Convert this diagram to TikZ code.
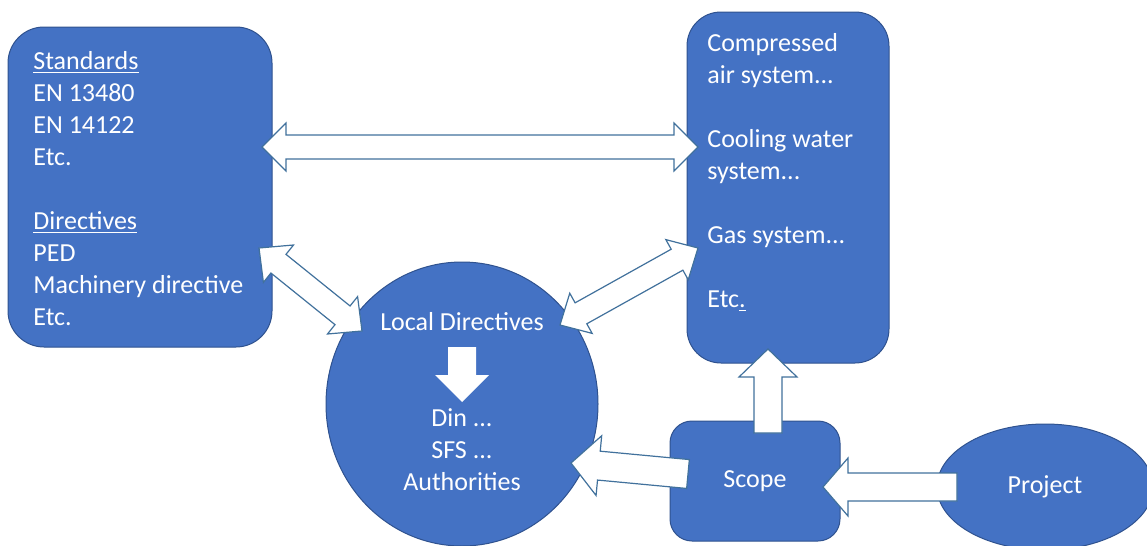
\documentclass[tikz,border=0pt]{standalone}
\usepackage{fontspec}
\setmainfont{Carlito}
\usetikzlibrary{shapes.geometric,calc}

\definecolor{boxblue}{HTML}{4472C4}
\definecolor{boxline}{HTML}{2F528F}
\definecolor{arrowline}{HTML}{41719C}

% block arrow: [style] tail, tip, shaft half width, head half width, head length
\newcommand{\singlearrow}[6][]{%
  \coordinate (neck) at ($(#3)!#6!(#2)$);
  \draw[blockarrow,#1] ($(#2)!#4!90:(#3)$) -- ($(neck)!#4!90:(#3)$) -- ($(neck)!#5!90:(#3)$) -- (#3)
    -- ($(neck)!#5!-90:(#3)$) -- ($(neck)!#4!-90:(#3)$) -- ($(#2)!#4!-90:(#3)$) -- cycle;}
% double block arrow: end a, end b, shaft half width, head half width, head length
\newcommand{\doublearrow}[5]{%
  \coordinate (necka) at ($(#1)!#5!(#2)$);
  \coordinate (neckb) at ($(#2)!#5!(#1)$);
  \draw[blockarrow] (#1) -- ($(necka)!#4!90:(#2)$) -- ($(necka)!#3!90:(#2)$) -- ($(neckb)!#3!90:(#2)$)
    -- ($(neckb)!#4!90:(#2)$) -- (#2) -- ($(neckb)!#4!-90:(#2)$) -- ($(neckb)!#3!-90:(#2)$)
    -- ($(necka)!#3!-90:(#2)$) -- ($(necka)!#4!-90:(#2)$) -- cycle;}

\begin{document}
\begin{tikzpicture}[x=0.5pt,y=-0.5pt,
  box/.style={fill=boxblue, draw=boxline, line width=0.5pt, inner sep=0pt, text=white},
  txt/.style={text=white, inner sep=0pt},
  blockarrow/.style={fill=white, draw=arrowline, line width=0.6pt, line join=miter},
  font=\fontsize{13}{16}\selectfont]
\clip (0,0) rectangle (1147,546);

%Formes
\node[box, rectangle, rounded corners=18pt, minimum width=132pt, minimum height=160pt] (std) at (140,187) {};
\node[box, rectangle, rounded corners=17pt, minimum width=101pt, minimum height=175.5pt] (sys) at (788,187.5) {};
\node[box, ellipse, minimum width=136pt, minimum height=142pt] (local) at (462,404) {};
\node[box, rectangle, rounded corners=11pt, minimum width=85pt, minimum height=60pt] (scope) at (755,481) {Scope};
\node[box, ellipse, minimum width=108pt, minimum height=63pt] (project) at (1045,487) {Project};

%Textes
\node[txt, anchor=north west, align=left] (stdtext) at (33,51) {\underline{Standards}\\EN 13480\\EN 14122\\Etc.\\[16pt]\underline{Directives}\\PED\\Machinery directive\\Etc.};
\node[txt, anchor=north west, align=left] (systext) at (707,33) {Compressed\\air system...\\[16pt]Cooling water\\system...\\[16pt]Gas system...\\[16pt]Etc\underline{.}};
\node[txt] (localtext) at (462,322) {Local Directives};
\node[txt, align=center] (dintext) at (462,450) {Din ...\\SFS ...\\Authorities};

%Fleches
\coordinate (stdR) at (262,147);
\coordinate (sysL) at (698,147);
\coordinate (stdD) at (259,248);
\coordinate (localL) at (362,331);
\coordinate (localR) at (560,325);
\coordinate (sysD) at (698,248);
\coordinate (downA) at (462,347);
\coordinate (downB) at (462,402);
\coordinate (scopeT) at (768,433);
\coordinate (sysB) at (768,349);
\coordinate (scopeL) at (688,474);
\coordinate (localE) at (571,463);
\coordinate (projectL) at (957,487);
\coordinate (scopeR) at (823,487);

\doublearrow{stdR}{sysL}{6pt}{12pt}{12pt}
\doublearrow{stdD}{localL}{6pt}{12pt}{12.5pt}
\doublearrow{localR}{sysD}{6pt}{11.5pt}{12pt}
\singlearrow[draw=none]{downA}{downB}{7pt}{13.5pt}{13.5pt}
\singlearrow{scopeT}{sysB}{7pt}{14.5pt}{14pt}
\singlearrow{scopeL}{localE}{7.25pt}{15pt}{14pt}
\singlearrow{projectL}{scopeR}{7pt}{14.5pt}{12.5pt}

\end{tikzpicture}
\end{document}
